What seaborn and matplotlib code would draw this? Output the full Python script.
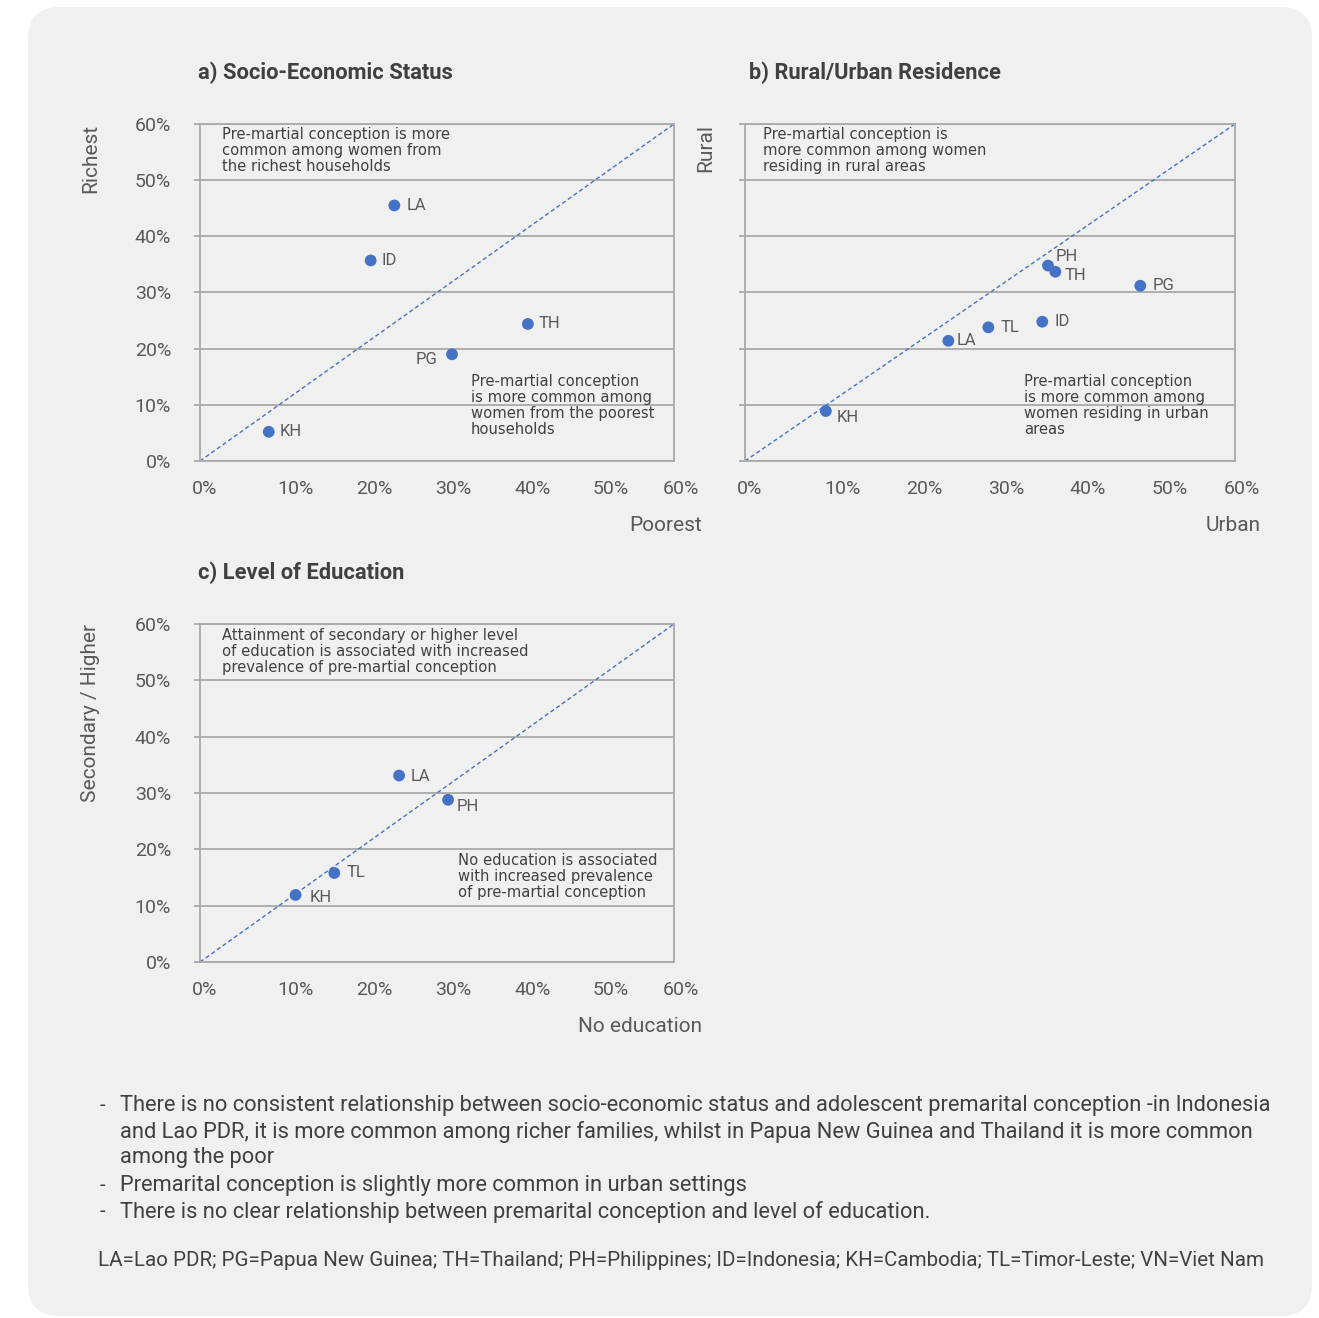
import matplotlib
matplotlib.use("Agg")
import matplotlib.pyplot as plt
import matplotlib.transforms as mtransforms
from matplotlib.patches import FancyBboxPatch
import seaborn as sns
import pandas as pd

# ---- data (percent of women with pre-marital conception) ----
A_COUNTRIES = ["LA", "ID", "TH", "PG", "KH"]
A_POOREST = [24.6, 21.6, 41.5, 31.9, 8.7]
A_RICHEST = [45.5, 35.7, 24.4, 19.0, 5.2]

B_COUNTRIES = ["PH", "TH", "PG", "ID", "TL", "LA", "KH"]
B_URBAN = [37.1, 38.0, 48.4, 36.4, 29.8, 24.9, 9.9]
B_RURAL = [34.8, 33.7, 31.2, 24.8, 23.8, 21.4, 8.9]

C_COUNTRIES = ["LA", "PH", "TL", "KH"]
C_NO_EDUCATION = [25.2, 31.4, 17.0, 12.1]
C_SECONDARY = [33.1, 28.8, 15.8, 11.9]

TICKS = [0, 10, 20, 30, 40, 50, 60]
TICK_LABELS = ["0%", "10%", "20%", "30%", "40%", "50%", "60%"]

BULLET_LINES = [
    ("-", "There is no consistent relationship between socio-economic status and adolescent premarital conception -in Indonesia"),
    ("", "and Lao PDR, it is more common among richer families, whilst in Papua New Guinea and Thailand it is more common"),
    ("", "among the poor"),
    ("-", "Premarital conception is slightly more common in urban settings"),
    ("-", "There is no clear relationship between premarital conception and level of education."),
]
FOOTNOTE = ("LA=Lao PDR; PG=Papua New Guinea; TH=Thailand; PH=Philippines; ID=Indonesia; "
            "KH=Cambodia; TL=Timor-Leste; VN=Viet Nam")

# ---- styling ----
W, H, DPI = 1319, 1318, 100
PANEL = "#f0f0f0"
GRID = "#a9a9a9"
BLUE = "#4472c4"
DARK = "#404040"
MID = "#595959"
SANS = ["Roboto", "DejaVu Sans"]
NOTE = ["DejaVu Sans"]

sns.set_style("white")
plt.rcParams["font.family"] = SANS

fig = plt.figure(figsize=(W / DPI, H / DPI), dpi=DPI, facecolor="white")

# rounded light-grey card behind everything
card = FancyBboxPatch((28 / W, 1 - 1316 / H), (1312 - 28) / W, (1316 - 7) / H,
                      boxstyle="round,pad=0,rounding_size=0.024",
                      transform=fig.transFigure, facecolor=PANEL,
                      edgecolor="none", zorder=-10)
fig.patches.append(card)


def px_axes(x0, y0, x1, y1):
    return fig.add_axes([x0 / W, 1 - y1 / H, (x1 - x0) / W, (y1 - y0) / H])


def px_offset(dx, dy):
    # offset in screen pixels (dy positive = downwards)
    return mtransforms.ScaledTranslation(dx / DPI, -dy / DPI, fig.dpi_scale_trans)


PANELS = [
    dict(box=(200, 124, 674, 461), title="a) Socio-Economic Status",
         names=A_COUNTRIES, x=A_POOREST, y=A_RICHEST,
         xlabel="Poorest", ylabel="Richest", ylabels=True,
         ylabel_dx=-109, xlabel_dx=28, title_dx=-2,
         top_note="Pre-martial conception is more\ncommon among women from\nthe richest households",
         top_pos=(0.046, 0.990),
         bottom_note="Pre-martial conception\nis more common among\nwomen from the poorest\nhouseholds",
         bottom_pos=(0.571, 0.258),
         offsets={"LA": (12, 0, "left"), "ID": (11, 0, "left"), "TH": (11, 0, "left"),
                  "PG": (-15, 5, "right"), "KH": (11, 0, "left")}),
    dict(box=(745, 124, 1235, 461), title="b) Rural/Urban Residence",
         names=B_COUNTRIES, x=B_URBAN, y=B_RURAL,
         xlabel="Urban", ylabel="Rural", ylabels=False,
         ylabel_dx=-39, xlabel_dx=26, title_dx=4,
         top_note="Pre-martial conception is\nmore common among women\nresiding in rural areas",
         top_pos=(0.037, 0.990),
         bottom_note="Pre-martial conception\nis more common among\nwomen residing in urban\nareas",
         bottom_pos=(0.570, 0.258),
         offsets={"PH": (8, -9, "left"), "TH": (9, 4, "left"), "PG": (12, 0, "left"),
                  "ID": (12, 0, "left"), "TL": (12, 0, "left"), "LA": (8, 0, "left"),
                  "KH": (11, 6, "left")}),
    dict(box=(200, 624, 674, 962), title="c) Level of Education",
         names=C_COUNTRIES, x=C_NO_EDUCATION, y=C_SECONDARY,
         xlabel="No education", ylabel="Secondary / Higher", ylabels=True,
         ylabel_dx=-109, xlabel_dx=28, title_dx=-2,
         top_note="Attainment of secondary or higher level\nof education is associated with increased\nprevalence of pre-martial conception",
         top_pos=(0.046, 0.989),
         bottom_note="No education is associated\nwith increased prevalence\nof pre-martial conception",
         bottom_pos=(0.544, 0.322),
         offsets={"LA": (12, 1, "left"), "PH": (9, 7, "left"), "TL": (12, 0, "left"),
                  "KH": (14, 3, "left")}),
]

titles = []

for p in PANELS:
    x0, y0, x1, y1 = p["box"]
    ax = px_axes(x0, y0, x1, y1)
    ax.set_facecolor(PANEL)
    df = pd.DataFrame({"x": p["x"], "y": p["y"], "country": p["names"]})

    # parity line
    sns.lineplot(x=[0, 60], y=[0, 60], ax=ax, color=BLUE, lw=1.0,
                 dashes=False, linestyle=(0, (3, 2)), zorder=2)
    sns.scatterplot(data=df, x="x", y="y", ax=ax, s=72, color=BLUE,
                    edgecolor="none", zorder=4, legend=False)

    for name, xv, yv in zip(df["country"], df["x"], df["y"]):
        dx, dy, ha = p["offsets"][name]
        ax.annotate(name, (xv, yv), xytext=(dx * 0.72, -dy * 0.72),
                    textcoords="offset points", ha=ha, va="center",
                    fontsize=12, color=MID, zorder=5)

    ax.set_xlim(0, 60)
    ax.set_ylim(0, 60)
    ax.set_xlabel("")
    ax.set_ylabel("")
    ax.set_xticks(TICKS)
    ax.set_xticklabels([])
    ax.set_yticks(TICKS)
    ax.yaxis.grid(True, color=GRID, lw=1.3, zorder=0)
    ax.xaxis.grid(False)
    ax.set_axisbelow(True)
    for s in ax.spines.values():
        s.set_visible(True)
        s.set_color(GRID)
        s.set_linewidth(1.3)
    ax.tick_params(axis="x", length=0)
    ax.tick_params(axis="y", length=4.3, width=1.3, color=GRID, left=True,
                   pad=16.5, labelsize=14, labelcolor=MID)
    if p["ylabels"]:
        ax.set_yticklabels(TICK_LABELS)
    else:
        ax.set_yticklabels([])

    # x tick labels, left-aligned on each tick
    base = mtransforms.blended_transform_factory(ax.transData, ax.transAxes)
    for i, (v, lab) in enumerate(zip(TICKS, TICK_LABELS)):
        dx = -8 if i == 0 else (-11 if i == len(TICKS) - 1 else -2)
        ax.text(v, 0, lab, transform=base + px_offset(dx, 19), ha="left",
                va="top", fontsize=14, color=MID, clip_on=False)

    # quadrant notes
    ax.text(*p["top_pos"], p["top_note"], transform=ax.transAxes, ha="left",
            va="top", fontsize=10.6, family=NOTE, color=DARK, linespacing=1.08,
            zorder=3)
    ax.text(*p["bottom_pos"], p["bottom_note"], transform=ax.transAxes,
            ha="left", va="top", fontsize=10.6, family=NOTE, color=DARK,
            linespacing=1.08, zorder=3)

    # axis captions
    ax.text(0, 1, p["ylabel"], transform=ax.transAxes + px_offset(p["ylabel_dx"], 0),
            rotation=90, ha="center", va="top", fontsize=15, color=MID)
    ax.text(1, 0, p["xlabel"], transform=ax.transAxes + px_offset(p["xlabel_dx"], 65),
            ha="right", va="center", fontsize=15, color=MID)

    titles.append(ax.text(0, 1, p["title"],
                          transform=ax.transAxes + px_offset(p["title_dx"], -51),
                          ha="left", va="center", fontsize=15.8,
                          fontweight="bold", color=DARK))

# ---- commentary below the charts ----
line_y = [1105, 1132, 1158, 1185, 1212]
body = []
for (dash, txt), yy in zip(BULLET_LINES, line_y):
    if dash:
        fig.text(100 / W, 1 - yy / H, dash, ha="left", va="center",
                 fontsize=14.5, color=DARK)
    body.append(fig.text(120 / W, 1 - yy / H, txt, ha="left", va="center",
                         fontsize=14.5, color=DARK))
foot = fig.text(98 / W, 1 - 1260 / H, FOOTNOTE, ha="left", va="center",
                fontsize=12.5, color=DARK)

# scale the body text so the long lines span the text column
renderer = fig.canvas.get_renderer()
w_line = body[0].get_window_extent(renderer).width
body_size = body[0].get_fontsize() * 1146 / w_line
for t in body:
    t.set_fontsize(body_size)
w_foot = foot.get_window_extent(renderer).width
foot.set_fontsize(foot.get_fontsize() * 1160 / w_foot)
w_title = titles[0].get_window_extent(renderer).width
title_size = titles[0].get_fontsize() * 255 / w_title
for t in titles:
    t.set_fontsize(title_size)

fig.savefig("out.png", dpi=DPI, facecolor="white")
